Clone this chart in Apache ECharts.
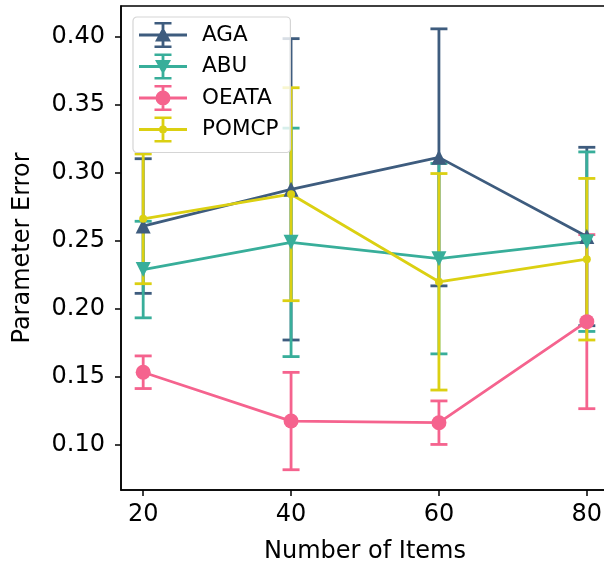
<!DOCTYPE html>
<html>
<head>
<meta charset="utf-8">
<script src="https://cdn.jsdelivr.net/npm/echarts@6/dist/echarts.min.js"></script>
<style>
  html, body { margin: 0; padding: 0; background: #fff; }
  #chart { width: 604px; height: 568px; }
</style>
</head>
<body>
<div id="chart"></div>
<script>
// number of items on the x axis
var items = [20, 40, 60, 80];

// mean parameter error per method
var agaMean = [0.261, 0.288, 0.3115, 0.2533];
var abuMean = [0.229, 0.249, 0.237, 0.2495];
var oeataMean = [0.1535, 0.1176, 0.1164, 0.1907];
var pomcpMean = [0.2663, 0.2844, 0.220, 0.2366];

// half width of the error bars
var agaErr = [0.0495, 0.1108, 0.0945, 0.0656];
var abuErr = [0.0355, 0.084, 0.070, 0.066];
var oeataErr = [0.012, 0.0358, 0.016, 0.064];
var pomcpErr = [0.0477, 0.0783, 0.0796, 0.0594];

var yTicks = [0.10, 0.15, 0.20, 0.25, 0.30, 0.35, 0.40];

var colors = {
    AGA: '#3e5c7e',
    ABU: '#38ae9a',
    OEATA: '#f5638e',
    POMCP: '#dbd012'
};

function rect(x, y, w, h) {
    return 'M' + x + ' ' + y + ' h' + w + ' v' + h + ' h' + (-w) + ' Z ';
}

// legend icon: line + error bar + marker, drawn in a 48x26 box
function legendIcon(marker) {
    var p = rect(0, 11.6, 48, 2.8) + rect(22.6, 1, 2.8, 24) +
        rect(15.5, 0, 17, 2.6) + rect(15.5, 23.4, 17, 2.6);
    if (marker == 'up') {
        p += 'M24 5 L32 19.5 L16 19.5 Z';
    } else if (marker == 'down') {
        p += 'M16 6.5 L32 6.5 L24 21 Z';
    } else if (marker == 'big') {
        p += 'M16.5 13 A7.5 7.5 0 1 1 31.5 13 A7.5 7.5 0 1 1 16.5 13 Z';
    } else {
        p += 'M20 13 A4 4 0 1 1 28 13 A4 4 0 1 1 20 13 Z';
    }
    return 'path://' + p;
}

function pairs(ys) {
    return items.map(function (x, i) { return [x, ys[i]]; });
}

function bars(mean, err) {
    return items.map(function (x, i) { return [x, mean[i] - err[i], mean[i] + err[i]]; });
}

function errorSeries(name, mean, err) {
    return {
        name: name,
        type: 'custom',
        z: 2,
        silent: true,
        encode: { x: 0, y: [1, 2] },
        data: bars(mean, err),
        renderItem: function (params, api) {
            var x = api.value(0);
            var lo = api.coord([x, api.value(1)]);
            var hi = api.coord([x, api.value(2)]);
            var cap = 8.5;
            var style = { stroke: colors[name], lineWidth: 2.8 };
            return {
                type: 'group',
                children: [
                    { type: 'line', shape: { x1: lo[0], y1: lo[1], x2: hi[0], y2: hi[1] }, style: style },
                    { type: 'line', shape: { x1: hi[0] - cap, y1: hi[1], x2: hi[0] + cap, y2: hi[1] }, style: style },
                    { type: 'line', shape: { x1: lo[0] - cap, y1: lo[1], x2: lo[0] + cap, y2: lo[1] }, style: style }
                ]
            };
        }
    };
}

function lineSeries(name, mean, symbol, size, rotate) {
    return {
        name: name,
        type: 'line',
        z: 3,
        data: pairs(mean),
        symbol: symbol,
        symbolSize: size,
        symbolRotate: rotate || 0,
        showAllSymbol: true,
        lineStyle: { color: colors[name], width: 2.8 },
        itemStyle: { color: colors[name], opacity: 1 }
    };
}

var chart = echarts.init(document.getElementById('chart'), null, { renderer: 'canvas' });

var font = 'DejaVu Sans';

var option = {
    animation: false,
    backgroundColor: '#fff',
    color: [colors.AGA, colors.ABU, colors.OEATA, colors.POMCP],
    grid: {
        left: 121, top: 6, width: 488, height: 484,
        show: true, borderColor: '#000', borderWidth: 1.5,
        containLabel: false,
        outerBoundsMode: 'none'
    },
    legend: {
        left: 133, top: 17,
        orient: 'vertical',
        padding: [5, 12, 10, 6],
        itemGap: 5.5,
        itemWidth: 48,
        itemHeight: 26,
        borderColor: '#d5d5d5',
        borderWidth: 1.2,
        borderRadius: 4,
        backgroundColor: 'rgba(255,255,255,0.8)',
        z: 10,
        selectedMode: false,
        textStyle: { fontFamily: font, fontSize: 21.5, color: '#000', padding: [0, 0, 0, 10] },
        data: [
            { name: 'AGA', icon: legendIcon('up'), itemStyle: { color: colors.AGA } },
            { name: 'ABU', icon: legendIcon('down'), itemStyle: { color: colors.ABU } },
            { name: 'OEATA', icon: legendIcon('big'), itemStyle: { color: colors.OEATA } },
            { name: 'POMCP', icon: legendIcon('small'), itemStyle: { color: colors.POMCP } }
        ]
    },
    xAxis: {
        type: 'value',
        min: 17, max: 83,
        name: 'Number of Items',
        nameLocation: 'middle',
        nameGap: 50,
        nameTextStyle: { fontFamily: font, fontSize: 24, color: '#000' },
        splitLine: { show: false },
        axisLine: { show: true, lineStyle: { color: '#000', width: 1.5 } },
        axisTick: { show: true, length: 6, lineStyle: { color: '#000', width: 1.5 }, customValues: items },
        axisLabel: { fontFamily: font, fontSize: 24, color: '#000', margin: 13, customValues: items }
    },
    yAxis: {
        type: 'value',
        min: 0.0669, max: 0.4228,
        name: 'Parameter Error',
        nameLocation: 'middle',
        nameGap: 86,
        nameTextStyle: { fontFamily: font, fontSize: 24, color: '#000' },
        splitLine: { show: false },
        axisLine: { show: true, lineStyle: { color: '#000', width: 1.5 } },
        axisTick: { show: true, length: 6, lineStyle: { color: '#000', width: 1.5 }, customValues: yTicks },
        axisLabel: {
            fontFamily: font, fontSize: 24, color: '#000', margin: 16, customValues: yTicks,
            formatter: function (v) { return v.toFixed(2); }
        }
    },
    series: [
        errorSeries('AGA', agaMean, agaErr),
        lineSeries('AGA', agaMean, 'triangle', 15),
        errorSeries('ABU', abuMean, abuErr),
        lineSeries('ABU', abuMean, 'triangle', 15, 180),
        errorSeries('OEATA', oeataMean, oeataErr),
        lineSeries('OEATA', oeataMean, 'circle', 15),
        errorSeries('POMCP', pomcpMean, pomcpErr),
        lineSeries('POMCP', pomcpMean, 'circle', 8)
    ]
};

chart.setOption(option);
</script>
</body>
</html>
